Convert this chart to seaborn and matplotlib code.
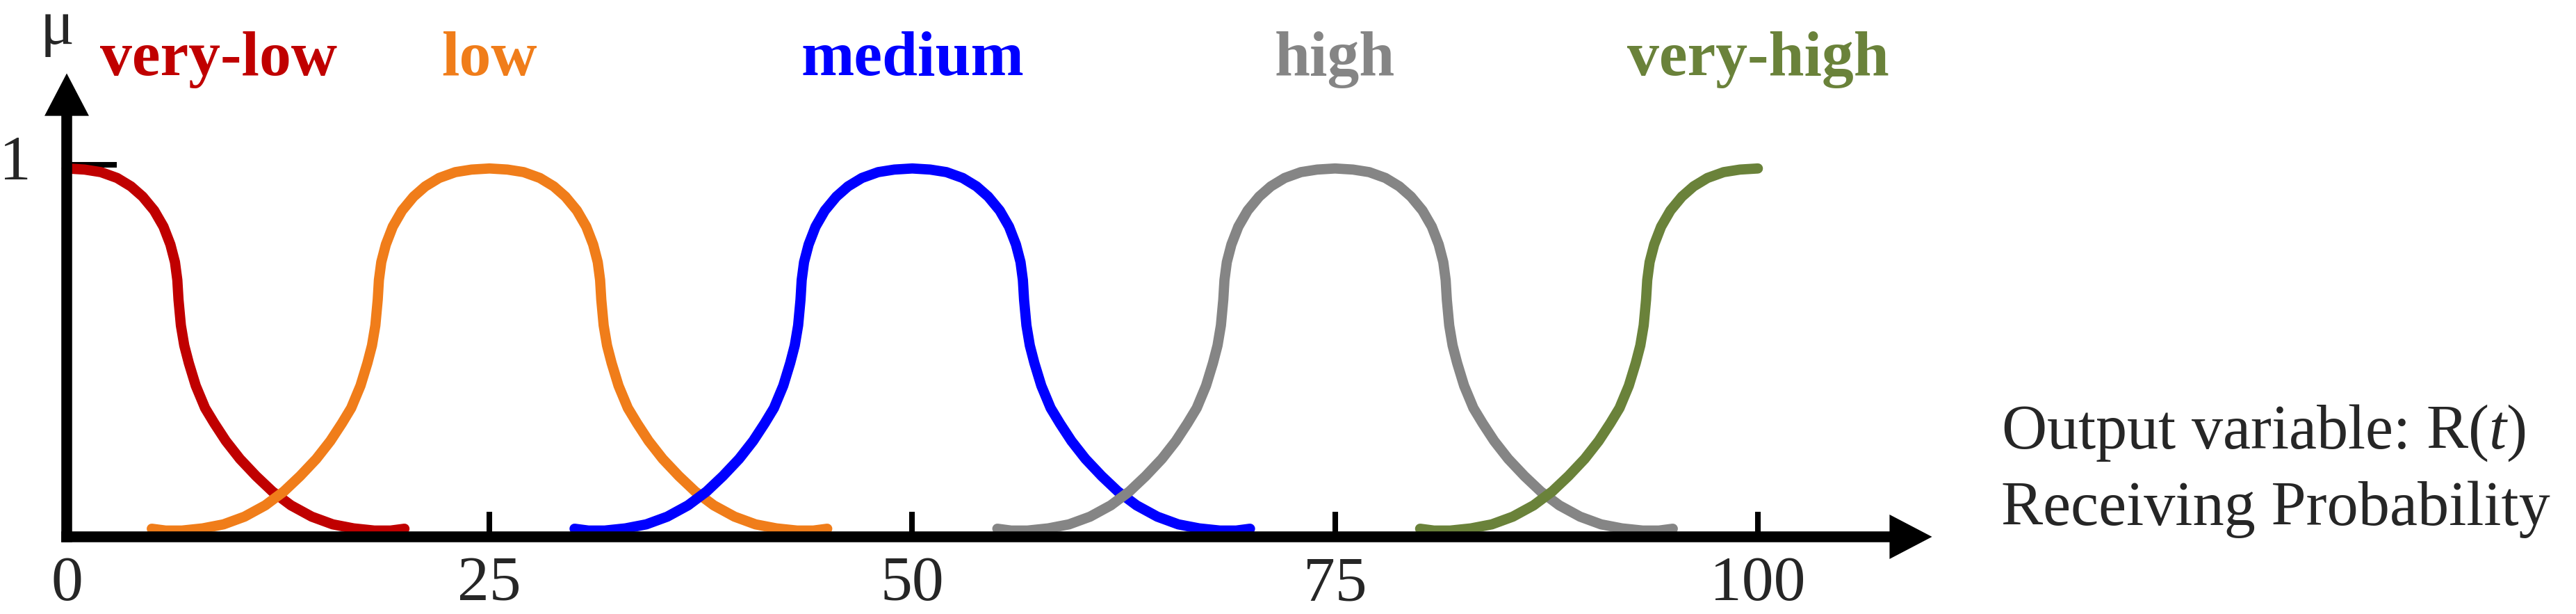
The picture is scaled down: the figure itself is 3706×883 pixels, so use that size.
import numpy as np
import pandas as pd
import matplotlib
matplotlib.use("Agg")
import matplotlib.pyplot as plt
import seaborn as sns

# membership functions of the output variable R(t)
labels = ["very-low", "low", "medium", "high", "very-high"]
centers = [0, 25, 50, 75, 100]
colors = ["#C00000", "#F07D1A", "#0000FF", "#858585", "#6A823A"]
label_x = [9.0, 25, 50, 75, 100]

# half profile of one membership curve
# (distance from the centre, membership degree)
offset = [0.0, 1.06, 2.02, 2.98, 3.80, 4.49, 5.17, 5.72, 6.13, 6.40, 6.54,
          6.61, 6.75, 6.95, 7.22, 7.63, 8.18, 8.73, 9.41, 10.24, 11.20,
          12.16, 13.26, 14.49, 15.73, 16.96, 18.19, 19.15, 19.97]
degree = [0.99, 0.987, 0.980, 0.964, 0.941, 0.913, 0.875, 0.831, 0.782,
          0.734, 0.685, 0.631, 0.561, 0.506, 0.458, 0.396, 0.335, 0.293,
          0.245, 0.196, 0.149, 0.107, 0.069, 0.038, 0.017, 0.006, 0.0,
          0.0, 0.005]

xticks = [0, 25, 50, 75, 100]

sns.set_style("white")
plt.rcParams["font.family"] = ["Liberation Serif", "DejaVu Serif"]
plt.rcParams["mathtext.fontset"] = "custom"
plt.rcParams["mathtext.rm"] = "Liberation Serif"
plt.rcParams["mathtext.it"] = "Liberation Serif:italic"

fig = plt.figure(figsize=(18.53, 4.415), dpi=200)
ax = fig.add_axes([0, 0, 1, 1])

rows = []
for name, c in zip(labels, centers):
    left = [c - d for d in offset[::-1]]
    right = [c + d for d in offset[1:]]
    xs = left + right
    ys = degree[::-1] + degree[1:]
    for x, y in zip(xs, ys):
        if 0 <= x <= 100:
            rows.append({"R": x, "mu": y, "set": name})
df = pd.DataFrame(rows)

for name, col in zip(labels, colors):
    sub = df[df["set"] == name]
    sns.lineplot(data=sub, x="R", y="mu", color=col, lw=5.3, ax=ax,
                 estimator=None, sort=True, solid_capstyle="round")

ax.set_xlim(-3.946, 148.38)
ax.set_ylim(-0.2281, 1.4506)

# axes drawn as arrows
y0 = -0.017
for s in ["top", "right"]:
    ax.spines[s].set_visible(False)
ax.spines["left"].set_position(("data", 0))
ax.spines["bottom"].set_position(("data", y0))
ax.spines["left"].set_bounds(y0, 1.14)
ax.spines["bottom"].set_bounds(0, 107.9)
for s in ["left", "bottom"]:
    ax.spines[s].set_linewidth(5.6)
    ax.spines[s].set_color("black")

head = dict(arrowstyle="-|>,head_length=22,head_width=11.5", mutation_scale=1,
            lw=0, fc="black", ec="black", shrinkA=0, shrinkB=0)
ax.annotate("", xy=(0, 1.25), xytext=(0, 1.0), arrowprops=head)
ax.annotate("", xy=(110.3, y0), xytext=(100, y0), arrowprops=head)

# tick marks pointing inwards, labels written by hand
ax.set_xticks(xticks)
ax.set_yticks([1])
ax.tick_params(axis="x", bottom=True, direction="in", length=13, width=2.9,
               color="black", labelbottom=False)
ax.tick_params(axis="y", left=True, direction="in", length=26, width=2.9,
               color="black", labelleft=False)
ax.set_xlabel("")
ax.set_ylabel("")

for t in xticks:
    ax.text(t, -0.2262, str(t), fontsize=33, ha="center", va="bottom")
ax.text(-3.04, 0.96, "1", fontsize=33, ha="center", va="baseline")

ax.text(-0.55, 1.331, "μ", fontsize=33, ha="center", va="baseline")

for name, col, lx in zip(labels, colors, label_x):
    ax.text(lx, 1.245, name, color=col, fontsize=33, fontweight="bold",
            ha="center", va="baseline")

ax.text(114.4, 0.2243, r"Output variable: R$\mathit{(t)}$", fontsize=32.5,
        ha="left", va="baseline")
ax.text(114.4, 0.0152, "Receiving Probability", fontsize=32.5,
        ha="left", va="baseline")

fig.savefig("out.png", dpi=200)
